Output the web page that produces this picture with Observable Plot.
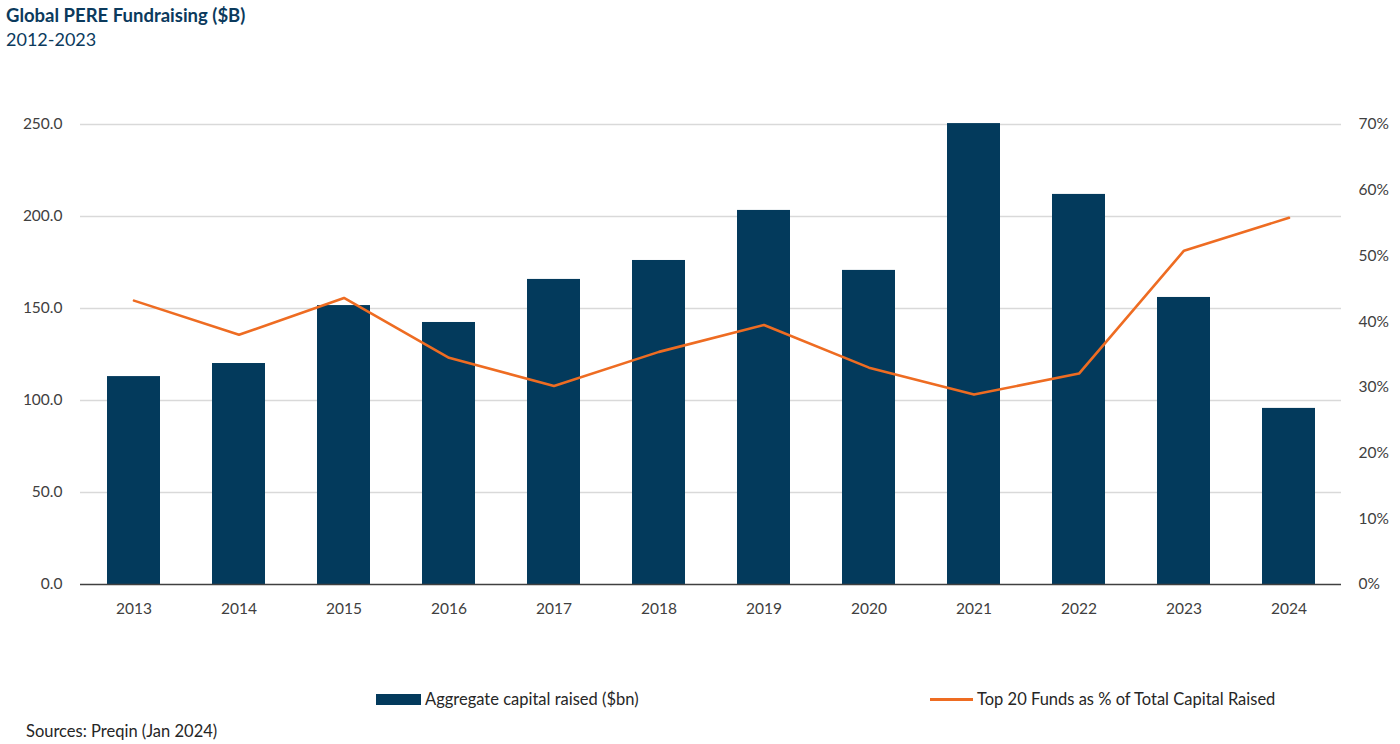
<!DOCTYPE html>
<html>
<head>
<meta charset="utf-8">
<script src="https://cdn.jsdelivr.net/npm/d3@7"></script>
<script src="https://cdn.jsdelivr.net/npm/@observablehq/plot@0.6"></script>
<style>
  body { margin: 0; background: #fff; font-family: Lato, "Open Sans", sans-serif; }
  #wrap { position: relative; width: 1400px; height: 744px; }
  #title { position: absolute; left: 6px; top: 4px; font-size: 18.5px; font-weight: bold; color: #0b3a5d; }
  #subtitle { position: absolute; left: 6px; top: 28px; font-size: 18px; color: #0b3a5d; }
  #chart { position: absolute; left: 0; top: 60px; }
  .leg { position: absolute; top: 689px; font-size: 16.5px; color: #262626; display: flex; align-items: center; }
  #source { position: absolute; left: 26px; top: 721px; font-size: 16.5px; color: #262626; }
</style>
</head>
<body>
<div id="wrap">
  <div id="title">Global PERE Fundraising ($B)</div>
  <div id="subtitle">2012-2023</div>
  <div id="chart"></div>
  <div class="leg" style="left:376px"><span style="display:inline-block;width:45px;height:11px;background:#033a5c;margin-right:4px"></span>Aggregate capital raised ($bn)</div>
  <div class="leg" style="left:930px"><span style="display:inline-block;width:43px;height:3px;background:#ee6c22;margin-right:4px"></span>Top 20 Funds as % of Total Capital Raised</div>
  <div id="source">Sources: Preqin (Jan 2024)</div>
</div>
<script>
const years = ["2013","2014","2015","2016","2017","2018","2019","2020","2021","2022","2023","2024"];
const capitalRaised = [113.0, 120.1, 151.6, 142.4, 165.8, 176.1, 203.3, 170.7, 250.5, 212.0, 156.0, 95.7];
const top20Pct = [43.2, 38.0, 43.6, 34.5, 30.2, 35.4, 39.5, 33.0, 28.9, 32.1, 50.8, 55.8];
const leftTicks = [0, 50, 100, 150, 200, 250];
const rightTicks = [0, 10, 20, 30, 40, 50, 60, 70];

const leftMax = 250, rightMax = 70;
const toLeft = p => p * leftMax / rightMax;

const bars = years.map((y, i) => ({year: y, value: capitalRaised[i]}));
const line = years.map((y, i) => ({year: y, pct: top20Pct[i], yv: toLeft(top20Pct[i])}));

const chart = Plot.plot({
  width: 1400,
  height: 600,
  marginTop: 64,
  marginBottom: 76,
  marginLeft: 80,
  marginRight: 59,
  style: {fontFamily: "Lato, 'Open Sans', sans-serif", fontSize: "15.5px", color: "#404040", background: "white"},
  x: {type: "band", domain: years, paddingInner: 0.5, paddingOuter: 0.25, align: 0.5},
  y: {domain: [0, leftMax]},
  marks: [
    Plot.ruleY(leftTicks.filter(d => d > 0), {stroke: "#d9d9d9", strokeWidth: 1.5}),
    Plot.barY(bars, {x: "year", y: "value", fill: "#033a5c"}),
    Plot.ruleY([0], {stroke: "#404040", strokeWidth: 1.5}),
    Plot.line(line, {x: "year", y: "yv", stroke: "#ee6c22", strokeWidth: 2.6, strokeLinejoin: "round"}),
    Plot.axisX({tickSize: 0, tickPadding: 18, label: null, fontSize: "15.5px"}),
    Plot.axisY(leftTicks, {anchor: "left", tickSize: 0, tickPadding: 18, tickFormat: d3.format(".1f"), label: null}),
    Plot.axisY(rightTicks.map(toLeft), {anchor: "right", tickSize: 0, tickPadding: 17, tickFormat: d => Math.round(d * rightMax / leftMax) + "%", label: null})
  ]
});
document.getElementById("chart").appendChild(chart);
</script>
</body>
</html>
